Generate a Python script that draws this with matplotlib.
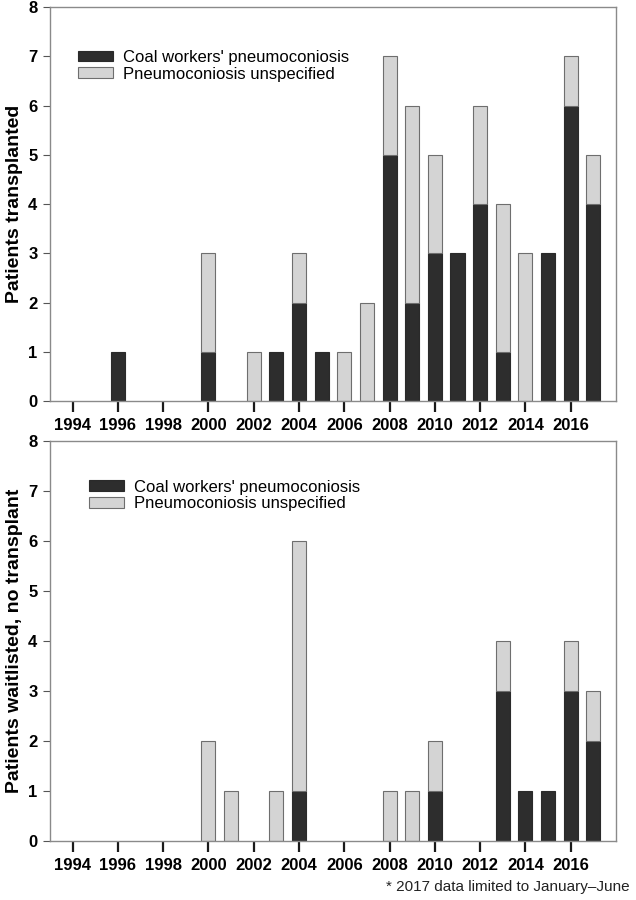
import matplotlib
matplotlib.use('Agg')
import matplotlib.pyplot as plt
import numpy as np

plt.rcParams['font.family'] = ['Liberation Sans', 'DejaVu Sans']

# Years shown on the x axis
years = list(range(1994, 2018))

# Patients transplanted (top panel)
tx_coal = [0, 0, 1, 0, 0, 0, 1, 0, 0, 1, 2, 1, 0, 0, 5, 2, 3, 3, 4, 1, 0, 3, 6, 4]
tx_unspec = [0, 0, 0, 0, 0, 0, 2, 0, 1, 0, 1, 0, 1, 2, 2, 4, 2, 0, 2, 3, 3, 0, 1, 1]

# Patients waitlisted, no transplant (bottom panel)
wl_coal = [0, 0, 0, 0, 0, 0, 0, 0, 0, 0, 1, 0, 0, 0, 0, 0, 1, 0, 0, 3, 1, 1, 3, 2]
wl_unspec = [0, 0, 0, 0, 0, 0, 2, 1, 0, 1, 5, 0, 0, 0, 1, 1, 1, 0, 0, 1, 0, 0, 1, 1]

series_labels = ["Coal workers' pneumoconiosis", "Pneumoconiosis unspecified"]
tick_years = list(range(1994, 2017, 2))

DARK = '#2d2d2d'
LIGHT = '#d4d4d4'
EDGE = '#6e6e6e'
SPINE = '#8a8a8a'


# Draw one stacked bar panel
def draw_panel(ax, coal, unspec, ylabel, legend_anchor):
    coal = np.array(coal)
    unspec = np.array(unspec)
    # only draw bars that have a value, so zeros leave no line on the axis
    mc = coal > 0
    mu = unspec > 0
    x = np.array(years)
    ax.bar(x[mc], coal[mc], width=0.62, color=DARK, edgecolor='#2a2a2a',
           linewidth=0.8, label=series_labels[0], zorder=2)
    ax.bar(x[mu], unspec[mu], width=0.62, bottom=coal[mu], color=LIGHT,
           edgecolor=EDGE, linewidth=0.8, label=series_labels[1], zorder=2)

    ax.set_xlim(1993, 2018)
    ax.set_ylim(0, 8)
    ax.set_xticks(tick_years)
    ax.set_xticklabels([str(y) for y in tick_years], fontweight='bold', fontsize=12)
    ax.set_yticks(range(0, 9))
    ax.set_yticklabels([str(v) for v in range(0, 9)], fontweight='bold', fontsize=12)
    ax.tick_params(axis='x', direction='out', length=8, width=1.6, color='#1a1a1a', pad=4)
    ax.tick_params(axis='y', direction='out', length=5, width=0.8, color='#555555', pad=4)
    for s in ax.spines.values():
        s.set_color(SPINE)
        s.set_linewidth(1.0)
    ax.set_ylabel(ylabel, fontweight='bold', fontsize=14, labelpad=4)

    leg = ax.legend(loc='upper left', bbox_to_anchor=legend_anchor, frameon=False,
                    fontsize=12, handlelength=2.1, handleheight=0.6,
                    handletextpad=0.6, labelspacing=0.1, borderaxespad=0)
    return leg


fig = plt.figure(figsize=(6.36, 9.0), dpi=100)
ax1 = fig.add_axes([0.0786, 0.5544, 0.8899, 0.4378])
ax2 = fig.add_axes([0.0786, 0.0656, 0.8899, 0.4444])

draw_panel(ax1, tx_coal, tx_unspec, 'Patients transplanted', (0.038, 0.908))
draw_panel(ax2, wl_coal, wl_unspec, 'Patients waitlisted, no transplant', (0.058, 0.92))

fig.text(0.99, 0.0145, '* 2017 data limited to January\u2013June', ha='right',
         va='center', fontsize=11, color='#222222')

fig.savefig('out.png', dpi=100)
plt.close(fig)
print('Plot saved: out.png')
